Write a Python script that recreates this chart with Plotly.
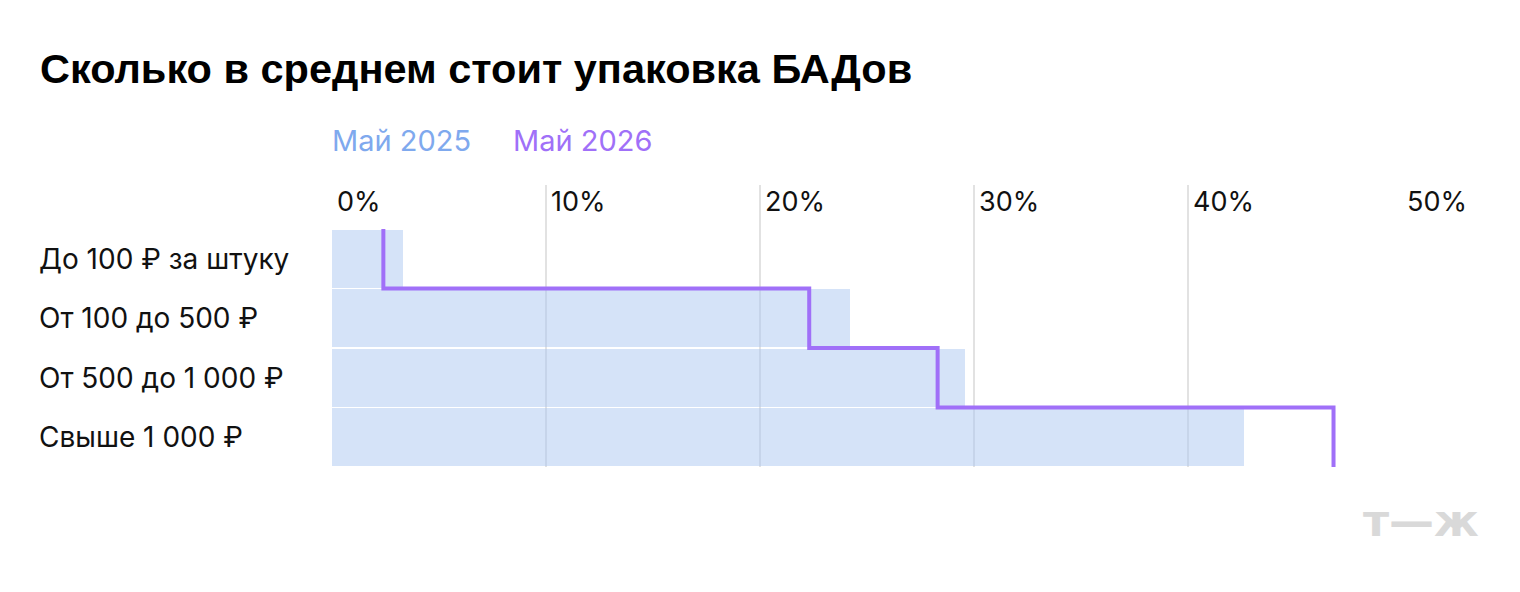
import plotly.graph_objects as go

title = "Сколько в среднем стоит упаковка БАДов"
categories = ["До 100 ₽ за штуку", "От 100 до 500 ₽", "От 500 до 1 000 ₽", "Свыше 1 000 ₽"]
may_2025 = [3.3, 24.2, 29.6, 42.6]
may_2026 = [2.4, 22.3, 28.3, 46.8]
tick_vals = [0, 10, 20, 30, 40, 50]
tick_text = ["0%", "10%", "20%", "30%", "40%", "50%"]
series_names = ["Май 2025", "Май 2026"]

BAR_COLOR = "rgb(172,200,242)"
LINE_COLOR = "#a070f8"
LEGEND_2025 = "#7fa9ee"
FONT = "Inter"

ypos = [i + 0.5 for i in range(len(categories))]

# step line along the row boundaries: vertical in each row, horizontal at boundaries
sx, sy = [], []
for i, v in enumerate(may_2026):
    sx += [v, v]
    sy += [i, i + 1]

fig = go.Figure()
fig.add_trace(go.Bar(
    x=may_2025, y=ypos, orientation="h", width=0.97,
    marker=dict(color=BAR_COLOR, line=dict(width=0)), opacity=0.5,
    name=series_names[0], showlegend=False, hoverinfo="x",
))
fig.add_trace(go.Scatter(
    x=sx, y=sy, mode="lines", line=dict(color=LINE_COLOR, width=4),
    name=series_names[1], showlegend=False, hoverinfo="x", cliponaxis=False,
))

OFF = 8  # page body margin
W, H = 1520, 592
pw, ph = 1070, 282
ml, mt = 332 - OFF, 185 - OFF
mr, mb = W - ml - pw, H - mt - ph


def px_x(px):
    return (px - OFF - ml) / pw


def px_y(py):
    return (mt + ph - (py - OFF)) / ph


annotations = []
for cat, y in zip(categories, ypos):
    annotations.append(dict(
        text=cat, x=px_x(37), xref="paper", y=y, yref="y",
        xanchor="left", yanchor="middle", showarrow=False,
        font=dict(family=FONT, size=28, color="#111111"),
    ))
for tv, tt in zip(tick_vals, tick_text):
    annotations.append(dict(
        text=tt, x=tv, xref="x", xshift=3, y=px_y(201), yref="paper",
        xanchor="left", yanchor="middle", showarrow=False,
        font=dict(family=FONT, size=27, color="#111111"),
    ))
annotations.append(dict(
    text=series_names[0], x=px_x(330), xref="paper", y=px_y(140), yref="paper",
    xanchor="left", yanchor="middle", showarrow=False,
    font=dict(family=FONT, size=29, color=LEGEND_2025),
))
annotations.append(dict(
    text=series_names[1], x=px_x(511), xref="paper", y=px_y(140), yref="paper",
    xanchor="left", yanchor="middle", showarrow=False,
    font=dict(family=FONT, size=29, color=LINE_COLOR),
))
annotations.append(dict(
    text="<b>т—ж</b>", x=px_x(1481), xref="paper", y=px_y(520), yref="paper",
    xanchor="right", yanchor="middle", showarrow=False,
    font=dict(family="DejaVu Sans", size=45, color="#d9d9d9"),
))

fig.update_layout(
    width=W, height=H,
    margin=dict(l=ml, r=mr, t=mt, b=mb),
    paper_bgcolor="white", plot_bgcolor="white",
    title=dict(text="<b>" + title + "</b>", x=(40 - OFF) / W, xanchor="left", xref="container",
               y=(H - (68 - OFF)) / H, yanchor="middle", yref="container",
               font=dict(family="Liberation Sans", size=41.5, color="#000000")),
    annotations=annotations,
    bargap=0,
)
fig.update_xaxes(range=[0, 50], tickvals=tick_vals, showticklabels=False,
                 showgrid=True, gridcolor="#e2e2e2", gridwidth=2, zeroline=False,
                 showline=False, fixedrange=True)
fig.update_yaxes(range=[4, -0.74], showticklabels=False, showgrid=False,
                 zeroline=False, showline=False, fixedrange=True)

fig.write_html("out.html")
